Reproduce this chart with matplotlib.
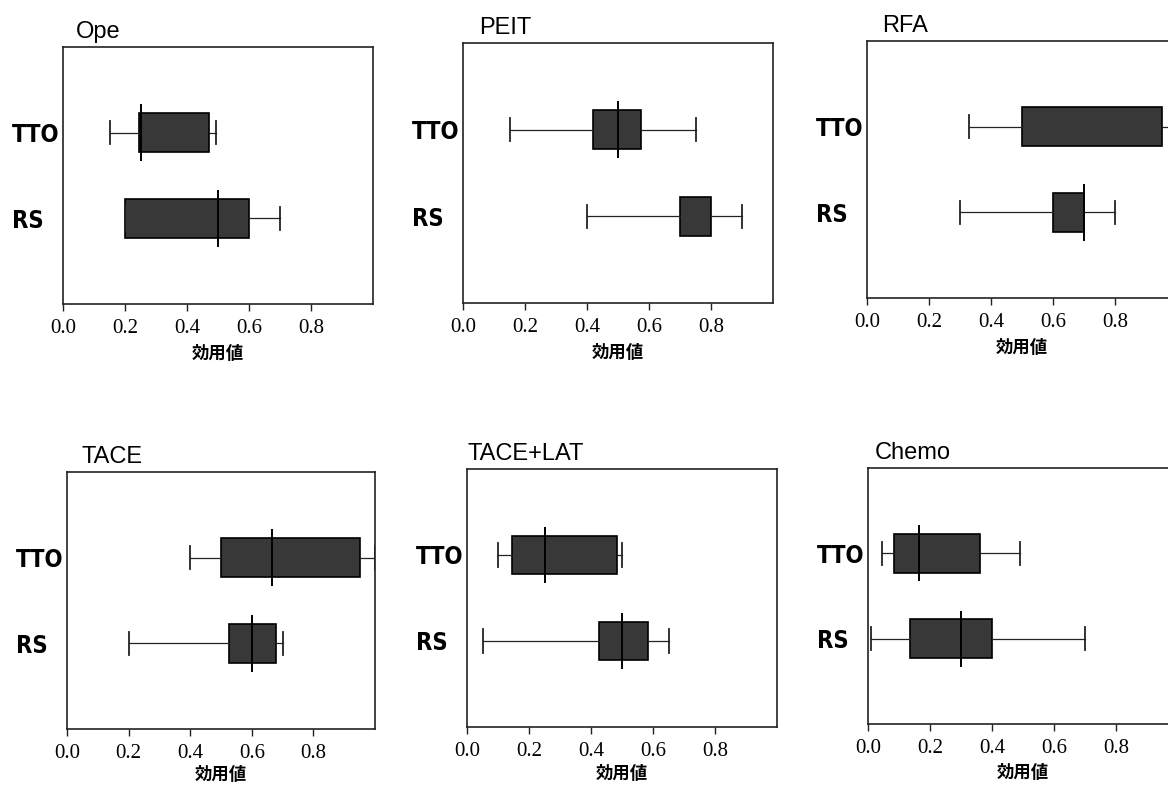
import numpy as np
import matplotlib
matplotlib.use("Agg")
import matplotlib.pyplot as plt
from matplotlib import font_manager

# ---- data ----
panels = ["Ope", "PEIT", "RFA", "TACE", "TACE+LAT", "Chemo"]
groups = ["RS", "TTO"]  # bottom to top
x_ticks = [0.0, 0.2, 0.4, 0.6, 0.8]
x_tick_labels = ["0.0", "0.2", "0.4", "0.6", "0.8"]
x_label = "効用値"

# per panel: [RS, TTO]
whislo = [[0.20, 0.15], [0.40, 0.15], [0.30, 0.33], [0.20, 0.40], [0.05, 0.10], [0.01, 0.045]]
q1     = [[0.20, 0.245], [0.70, 0.42], [0.60, 0.50], [0.525, 0.50], [0.425, 0.145], [0.135, 0.083]]
med    = [[0.50, 0.25], [np.nan, 0.50], [0.70, np.nan], [0.60, 0.667], [0.50, 0.25], [0.30, 0.165]]
q3     = [[0.60, 0.47], [0.80, 0.575], [0.70, 0.95], [0.677, 0.95], [0.585, 0.485], [0.40, 0.36]]
whishi = [[0.70, 0.495], [0.90, 0.75], [0.80, 1.00], [0.70, 1.00], [0.65, 0.50], [0.70, 0.49]]

# ---- layout (pixels: left, top, right, bottom) ----
W, H = 1168, 785
rects_px = [
    (63, 47, 373, 304),
    (463, 43, 773, 303),
    (867, 41, 1177, 298),
    (67, 472, 375, 729),
    (467, 469, 777, 727),
    (868, 468, 1178, 724),
]
title_dx = [13, 16, 15, 15, 1, 7]
xlabel_pad = [5, 5, 5, 2, 3, 4]

fig = plt.figure(figsize=(W / 100, H / 100), dpi=100)
fig.patch.set_facecolor("white")

box_color = "#383838"

# condensed font for group labels if available
names = {f.name for f in font_manager.fontManager.ttflist}
cond = [f for f in font_manager.fontManager.ttflist
        if f.name == "DejaVu Sans" and f.stretch == "condensed"]
if "Liberation Sans Narrow" in names:
    label_kw = dict(fontfamily="Liberation Sans Narrow", fontsize=19, fontweight="bold")
elif cond:
    label_kw = dict(fontfamily="DejaVu Sans", fontstretch="condensed", fontsize=17,
                    fontweight="bold")
else:
    label_kw = dict(fontfamily="Noto Sans CJK JP", fontsize=17, fontweight="bold")

for i, name in enumerate(panels):
    l, t, r, b = rects_px[i]
    ax = fig.add_axes([l / W, 1 - b / H, (r - l) / W, (b - t) / H])
    positions = [1, 2]
    stats = []
    for j in range(2):
        stats.append(dict(whislo=whislo[i][j], q1=q1[i][j], med=q1[i][j],
                          q3=q3[i][j], whishi=whishi[i][j], fliers=[]))
    ax.bxp(stats, positions=positions, orientation="horizontal", widths=0.45,
           capwidths=0.27, patch_artist=True, showfliers=False,
           boxprops=dict(facecolor=box_color, edgecolor="black", linewidth=1.2),
           whiskerprops=dict(color="#222222", linewidth=0.9),
           capprops=dict(color="#222222", linewidth=1.3),
           medianprops=dict(linewidth=0))
    for j in range(2):
        m = med[i][j]
        if not np.isnan(m):
            ax.vlines(m, positions[j] - 0.33, positions[j] + 0.33, color="black", linewidth=1.4)
    ax.set_xlim(0, 1.0)
    ax.set_ylim(0, 3)
    ax.set_xticks(x_ticks)
    ax.set_xticklabels(x_tick_labels, fontfamily="Liberation Serif", fontsize=15)
    ax.tick_params(axis="x", direction="out", length=5, width=1, pad=6, color="#222222")
    ax.set_yticks(positions)
    ax.set_yticklabels(groups, ha="left", **label_kw)
    ax.tick_params(axis="y", length=0, pad=37)
    for sp in ax.spines.values():
        sp.set_linewidth(1.2)
        sp.set_color("#222222")
    ax.set_xlabel(x_label, fontfamily=["Noto Sans CJK JP", "DejaVu Sans"], fontweight="bold",
                  fontsize=12.5, labelpad=xlabel_pad[i])
    ax.text(title_dx[i] / (r - l), 1.0 + 9 / (b - t), name, transform=ax.transAxes,
            ha="left", va="baseline", fontfamily="Liberation Sans", fontsize=17)

fig.savefig("out.png", dpi=100)
